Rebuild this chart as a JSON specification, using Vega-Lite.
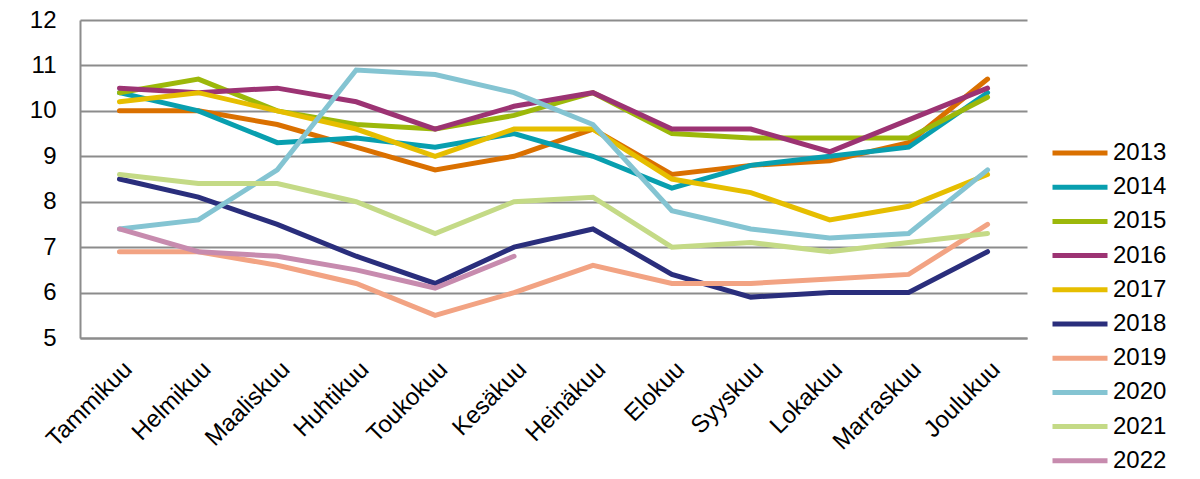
{
  "$schema": "https://vega.github.io/schema/vega-lite/v6.json",
  "autosize": {"type": "none"},
  "padding": {"left": 80, "top": 20, "right": 173, "bottom": 141},
  "width": 947,
  "height": 318,
  "background": "white",
  "config": {
    "view": {"stroke": null},
    "font": "Liberation Sans"
  },
  "data": {
    "values": [
      {"m":"Tammikuu","y":"2013","v":10.0},{"m":"Helmikuu","y":"2013","v":10.0},{"m":"Maaliskuu","y":"2013","v":9.7},{"m":"Huhtikuu","y":"2013","v":9.2},{"m":"Toukokuu","y":"2013","v":8.7},{"m":"Kesäkuu","y":"2013","v":9.0},{"m":"Heinäkuu","y":"2013","v":9.6},{"m":"Elokuu","y":"2013","v":8.6},{"m":"Syyskuu","y":"2013","v":8.8},{"m":"Lokakuu","y":"2013","v":8.9},{"m":"Marraskuu","y":"2013","v":9.3},{"m":"Joulukuu","y":"2013","v":10.7},
      {"m":"Tammikuu","y":"2014","v":10.4},{"m":"Helmikuu","y":"2014","v":10.0},{"m":"Maaliskuu","y":"2014","v":9.3},{"m":"Huhtikuu","y":"2014","v":9.4},{"m":"Toukokuu","y":"2014","v":9.2},{"m":"Kesäkuu","y":"2014","v":9.5},{"m":"Heinäkuu","y":"2014","v":9.0},{"m":"Elokuu","y":"2014","v":8.3},{"m":"Syyskuu","y":"2014","v":8.8},{"m":"Lokakuu","y":"2014","v":9.0},{"m":"Marraskuu","y":"2014","v":9.2},{"m":"Joulukuu","y":"2014","v":10.4},
      {"m":"Tammikuu","y":"2015","v":10.4},{"m":"Helmikuu","y":"2015","v":10.7},{"m":"Maaliskuu","y":"2015","v":10.0},{"m":"Huhtikuu","y":"2015","v":9.7},{"m":"Toukokuu","y":"2015","v":9.6},{"m":"Kesäkuu","y":"2015","v":9.9},{"m":"Heinäkuu","y":"2015","v":10.4},{"m":"Elokuu","y":"2015","v":9.5},{"m":"Syyskuu","y":"2015","v":9.4},{"m":"Lokakuu","y":"2015","v":9.4},{"m":"Marraskuu","y":"2015","v":9.4},{"m":"Joulukuu","y":"2015","v":10.3},
      {"m":"Tammikuu","y":"2016","v":10.5},{"m":"Helmikuu","y":"2016","v":10.4},{"m":"Maaliskuu","y":"2016","v":10.5},{"m":"Huhtikuu","y":"2016","v":10.2},{"m":"Toukokuu","y":"2016","v":9.6},{"m":"Kesäkuu","y":"2016","v":10.1},{"m":"Heinäkuu","y":"2016","v":10.4},{"m":"Elokuu","y":"2016","v":9.6},{"m":"Syyskuu","y":"2016","v":9.6},{"m":"Lokakuu","y":"2016","v":9.1},{"m":"Marraskuu","y":"2016","v":9.8},{"m":"Joulukuu","y":"2016","v":10.5},
      {"m":"Tammikuu","y":"2017","v":10.2},{"m":"Helmikuu","y":"2017","v":10.4},{"m":"Maaliskuu","y":"2017","v":10.0},{"m":"Huhtikuu","y":"2017","v":9.6},{"m":"Toukokuu","y":"2017","v":9.0},{"m":"Kesäkuu","y":"2017","v":9.6},{"m":"Heinäkuu","y":"2017","v":9.6},{"m":"Elokuu","y":"2017","v":8.5},{"m":"Syyskuu","y":"2017","v":8.2},{"m":"Lokakuu","y":"2017","v":7.6},{"m":"Marraskuu","y":"2017","v":7.9},{"m":"Joulukuu","y":"2017","v":8.6},
      {"m":"Tammikuu","y":"2018","v":8.5},{"m":"Helmikuu","y":"2018","v":8.1},{"m":"Maaliskuu","y":"2018","v":7.5},{"m":"Huhtikuu","y":"2018","v":6.8},{"m":"Toukokuu","y":"2018","v":6.2},{"m":"Kesäkuu","y":"2018","v":7.0},{"m":"Heinäkuu","y":"2018","v":7.4},{"m":"Elokuu","y":"2018","v":6.4},{"m":"Syyskuu","y":"2018","v":5.9},{"m":"Lokakuu","y":"2018","v":6.0},{"m":"Marraskuu","y":"2018","v":6.0},{"m":"Joulukuu","y":"2018","v":6.9},
      {"m":"Tammikuu","y":"2019","v":6.9},{"m":"Helmikuu","y":"2019","v":6.9},{"m":"Maaliskuu","y":"2019","v":6.6},{"m":"Huhtikuu","y":"2019","v":6.2},{"m":"Toukokuu","y":"2019","v":5.5},{"m":"Kesäkuu","y":"2019","v":6.0},{"m":"Heinäkuu","y":"2019","v":6.6},{"m":"Elokuu","y":"2019","v":6.2},{"m":"Syyskuu","y":"2019","v":6.2},{"m":"Lokakuu","y":"2019","v":6.3},{"m":"Marraskuu","y":"2019","v":6.4},{"m":"Joulukuu","y":"2019","v":7.5},
      {"m":"Tammikuu","y":"2020","v":7.4},{"m":"Helmikuu","y":"2020","v":7.6},{"m":"Maaliskuu","y":"2020","v":8.7},{"m":"Huhtikuu","y":"2020","v":10.9},{"m":"Toukokuu","y":"2020","v":10.8},{"m":"Kesäkuu","y":"2020","v":10.4},{"m":"Heinäkuu","y":"2020","v":9.7},{"m":"Elokuu","y":"2020","v":7.8},{"m":"Syyskuu","y":"2020","v":7.4},{"m":"Lokakuu","y":"2020","v":7.2},{"m":"Marraskuu","y":"2020","v":7.3},{"m":"Joulukuu","y":"2020","v":8.7},
      {"m":"Tammikuu","y":"2021","v":8.6},{"m":"Helmikuu","y":"2021","v":8.4},{"m":"Maaliskuu","y":"2021","v":8.4},{"m":"Huhtikuu","y":"2021","v":8.0},{"m":"Toukokuu","y":"2021","v":7.3},{"m":"Kesäkuu","y":"2021","v":8.0},{"m":"Heinäkuu","y":"2021","v":8.1},{"m":"Elokuu","y":"2021","v":7.0},{"m":"Syyskuu","y":"2021","v":7.1},{"m":"Lokakuu","y":"2021","v":6.9},{"m":"Marraskuu","y":"2021","v":7.1},{"m":"Joulukuu","y":"2021","v":7.3},
      {"m":"Tammikuu","y":"2022","v":7.4},{"m":"Helmikuu","y":"2022","v":6.9},{"m":"Maaliskuu","y":"2022","v":6.8},{"m":"Huhtikuu","y":"2022","v":6.5},{"m":"Toukokuu","y":"2022","v":6.1},{"m":"Kesäkuu","y":"2022","v":6.8}
    ]
  },
  "mark": {"type": "line", "strokeWidth": 5, "strokeCap": "round", "strokeJoin": "miter"},
  "encoding": {
    "x": {
      "field": "m", "type": "ordinal",
      "sort": ["Tammikuu","Helmikuu","Maaliskuu","Huhtikuu","Toukokuu","Kesäkuu","Heinäkuu","Elokuu","Syyskuu","Lokakuu","Marraskuu","Joulukuu"],
      "scale": {"type": "point", "padding": 0.5},
      "axis": {
        "title": null, "labelAngle": -45, "labelFontSize": 24, "labelColor": "#000000",
        "ticks": false, "grid": false, "domainColor": "#8c8c8c", "domainWidth": 2,
        "labelPadding": 19, "labelOffset": 0
      }
    },
    "y": {
      "field": "v", "type": "quantitative",
      "scale": {"domain": [5, 12], "nice": false, "zero": false},
      "axis": {
        "title": null, "values": [5,6,7,8,9,10,11,12], "labelFontSize": 24, "labelColor": "#000000",
        "ticks": false, "grid": true, "gridColor": "#8c8c8c", "gridWidth": 2,
        "domainColor": "#8c8c8c", "domainWidth": 2, "labelPadding": 24
      }
    },
    "color": {
      "field": "y", "type": "nominal",
      "scale": {
        "domain": ["2013","2014","2015","2016","2017","2018","2019","2020","2021","2022"],
        "range": ["#DA7000","#089FAF","#9CB80A","#9C3373","#E6BE00","#2A2E7C","#F2A383","#84C4D2","#C4DA86","#C78BAE"]
      },
      "legend": {
        "title": null, "orient": "none", "legendX": 970, "legendY": 121,
        "symbolType": "stroke", "symbolSize": 3025, "symbolStrokeWidth": 5,
        "labelFontSize": 24, "labelColor": "#000000", "labelOffset": 3,
        "rowPadding": 10.2, "clipHeight": 24
      }
    }
  }
}
